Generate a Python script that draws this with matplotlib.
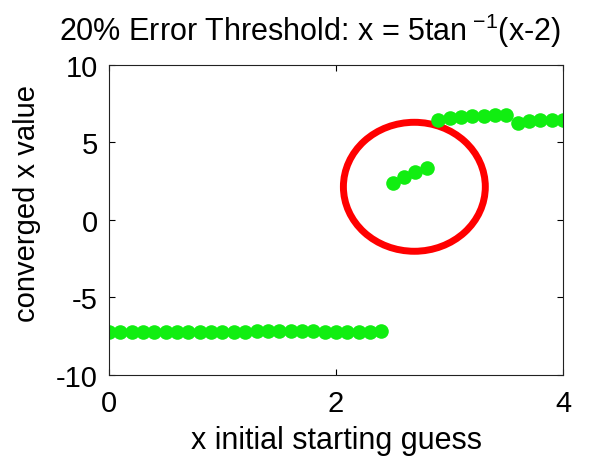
import numpy as np
import matplotlib.pyplot as plt
from matplotlib.patches import Ellipse

plt.rcParams['font.family'] = ['Liberation Sans', 'DejaVu Sans']
plt.rcParams['axes.unicode_minus'] = False
plt.rcParams['mathtext.fontset'] = 'custom'
plt.rcParams['mathtext.rm'] = 'Liberation Sans'

# starting guesses and converged values
x_start = [round(0.1 * i, 1) for i in range(41)]
x_conv = [-7.27, -7.27, -7.26, -7.26, -7.26, -7.25, -7.25, -7.25, -7.24, -7.24,
          -7.23, -7.22, -7.21, -7.19, -7.17, -7.16, -7.17, -7.18, -7.19, -7.21,
          -7.22, -7.23, -7.23, -7.21, -7.19,
          2.39, 2.77, 3.10, 3.35,
          6.47, 6.58, 6.63, 6.69, 6.69, 6.73, 6.73, 6.26, 6.37, 6.41, 6.41, 6.45]

fig = plt.figure(figsize=(5.89, 4.60), dpi=100)
ax = fig.add_axes([0.185, 0.183, 0.771, 0.674])

ax.plot(x_start, x_conv, 'o', color='#11ee11', markersize=10.5, markeredgewidth=0)

ax.add_patch(Ellipse((2.69, 2.13), 1.25, 8.32, fill=False, edgecolor='#ff0000',
                     linewidth=5, clip_on=False))

ax.set_xlim(0, 4)
ax.set_ylim(-10, 10)
ax.set_xticks([0, 2, 4])
ax.set_yticks([-10, -5, 0, 5, 10])
ax.tick_params(direction='in', labelsize=21, length=4, top=True, right=True)
ax.tick_params(axis='x', pad=10)
ax.tick_params(axis='y', pad=8)
for s in ax.spines.values():
    s.set_linewidth(0.8)
    s.set_color('#222222')
ax.set_xlabel('x initial starting guess', fontsize=22, labelpad=6)
ax.set_ylabel('converged x value', fontsize=21)
ax.yaxis.set_label_coords(-0.15, 0.555)
ax.set_title(r'20% Error Threshold: x = 5tan$^{\;\mathrm{-1}}$(x-2)', fontsize=22,
             pad=18, x=0.443)

fig.savefig('out.png', dpi=100)
